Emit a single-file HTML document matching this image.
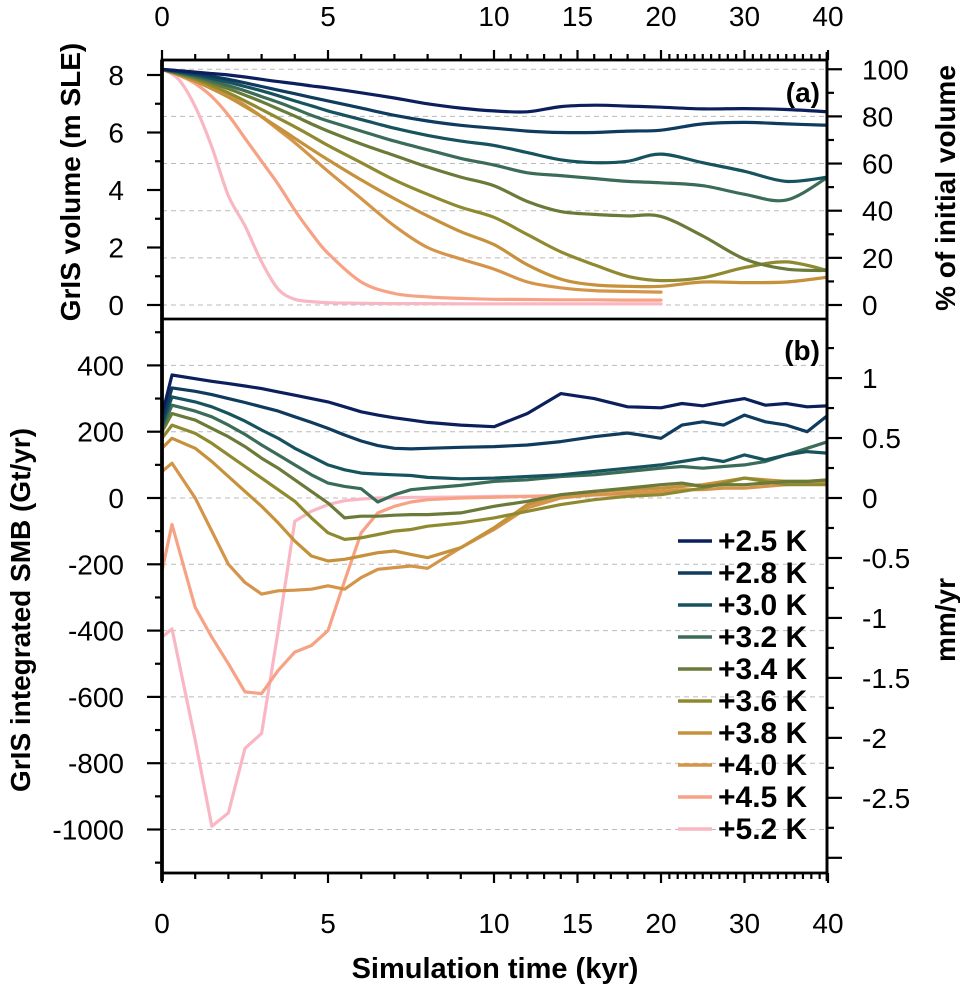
<!DOCTYPE html>
<html><head><meta charset="utf-8"><style>
html,body{margin:0;padding:0;background:#fff}
svg{display:block;font-family:"Liberation Sans",Arial,sans-serif}
</style></head><body>
<svg id="c" width="960" height="984" viewBox="0 0 960 984"></svg>
<script>
// ---- data ----
const seriesLabels = ["+2.5 K","+2.8 K","+3.0 K","+3.2 K","+3.4 K","+3.6 K","+3.8 K","+4.0 K","+4.5 K","+5.2 K"];
const seriesColors = ["#0b1f5c","#0f3b5f","#17535f","#3a6c58","#6a7a38","#8f8a30","#c5913a","#d4954a","#f7a285","#f9b7c3"];
const volTimes = [0,0.5,1,1.5,2,2.5,3,3.5,4,4.5,5,6,7,8,9,10,12,14,16,18,20,25,30,35,40];
const vol25 = [8.2,8.15,8.1,8.05,8.0,7.93,7.85,7.77,7.7,7.62,7.55,7.38,7.2,7.0,6.85,6.75,6.72,6.9,6.95,6.92,6.88,6.82,6.83,6.8,6.72];
const vol28 = [8.2,8.13,8.05,7.95,7.85,7.73,7.6,7.47,7.35,7.22,7.1,6.85,6.6,6.4,6.25,6.15,6.05,6.0,6.0,6.05,6.08,6.3,6.35,6.3,6.25];
const vol30 = [8.2,8.1,8.0,7.88,7.75,7.6,7.45,7.28,7.1,6.93,6.75,6.45,6.15,5.9,5.7,5.55,5.3,5.05,4.95,5.0,5.25,4.95,4.65,4.3,4.45];
const vol32 = [8.2,8.08,7.95,7.8,7.63,7.45,7.25,7.05,6.83,6.6,6.4,6.05,5.7,5.4,5.1,4.87,4.6,4.5,4.4,4.3,4.25,4.15,3.85,3.65,4.45];
const vol34 = [8.2,8.05,7.9,7.72,7.52,7.3,7.07,6.82,6.57,6.3,6.05,5.6,5.2,4.8,4.45,4.15,3.6,3.25,3.15,3.1,3.08,2.4,1.6,1.25,1.2];
const vol36 = [8.2,8.03,7.85,7.63,7.38,7.1,6.8,6.5,6.2,5.88,5.55,4.95,4.35,3.85,3.4,3.05,2.45,1.85,1.4,1.0,0.85,0.95,1.3,1.5,1.2];
const vol38 = [8.2,8.0,7.78,7.52,7.23,6.9,6.55,6.18,5.8,5.42,5.05,4.35,3.7,3.1,2.55,2.1,1.4,0.9,0.7,0.65,0.65,0.8,0.78,0.8,0.97];
const vol40 = [8.2,8.05,7.85,7.6,7.3,6.95,6.55,6.1,5.65,5.15,4.65,3.7,2.75,2.0,1.6,1.25,0.8,0.6,0.5,0.47,0.45];
const vol45 = [8.2,8.0,7.7,7.25,6.6,5.8,5.0,4.2,3.3,2.5,1.8,0.8,0.4,0.28,0.23,0.2,0.19,0.18,0.18,0.17,0.17];
const vol52 = [8.2,7.85,6.9,5.5,3.8,2.75,1.5,0.55,0.2,0.12,0.08,0.06,0.05,0.05,0.04,0.04,0.04,0.04,0.04,0.04,0.04];
const smbTimes = [0,0.3,1,1.5,2,2.5,3,3.5,4,4.5,5,5.5,6,6.5,7,7.5,8,9,10,12,14,16,18,20,22.5,25,27.5,30,32.5,35,37.5,40];
const smb25 = [250,371,360,352,345,338,330,320,310,300,290,275,260,250,242,235,228,220,215,255,315,300,275,272,285,278,290,300,280,285,275,278];
const smb28 = [230,332,322,312,300,288,275,262,245,228,210,190,172,158,150,148,150,153,155,160,170,185,196,180,220,230,220,250,230,220,200,250];
const smb30 = [220,305,290,275,255,232,205,180,150,125,100,85,75,72,70,68,62,58,60,65,70,80,90,100,110,120,110,130,115,130,140,135];
const smb32 = [210,280,262,245,220,192,160,130,100,70,45,35,28,-12,10,25,30,38,50,55,65,70,80,90,95,90,95,100,110,130,150,170];
const smb34 = [200,255,235,210,185,155,120,90,55,20,-15,-60,-55,-55,-52,-50,-50,-45,-25,-10,10,20,30,40,45,35,40,40,45,50,50,55];
const smb36 = [180,220,195,165,130,95,60,25,-10,-60,-105,-125,-120,-110,-100,-95,-85,-75,-60,-40,-20,-5,5,10,20,30,45,60,50,40,40,40];
const smb38 = [150,180,150,110,65,20,-25,-75,-130,-175,-190,-185,-175,-165,-160,-170,-180,-150,-90,-20,10,20,25,30,35,40,50,60,55,50,50,50];
const smb40 = [80,105,0,-100,-200,-255,-290,-280,-278,-275,-265,-275,-240,-215,-210,-205,-212,-150,-95,-30,0,10,15,20,25,25,30,30,35,40,45,45];
const smb45 = [-220,-80,-330,-420,-500,-585,-590,-520,-465,-445,-400,-250,-105,-45,-25,-12,-5,0,2,5,8,10,10,12];
const smb52 = [-420,-395,-730,-990,-950,-755,-710,-400,-70,-40,-20,-8,-3,0,0,2,2,3,5,5,6,8,10,12];
const volSeries = [vol25,vol28,vol30,vol32,vol34,vol36,vol38,vol40,vol45,vol52];
const smbSeries = [smb25,smb28,smb30,smb32,smb34,smb36,smb38,smb40,smb45,smb52];
const xTickLabels = [0,5,10,15,20,30,40];
const volTicks = [0,2,4,6,8];
const pctTicks = [0,20,40,60,80,100];
const smbTicks = [400,200,0,-200,-400,-600,-800,-1000];
const mmTicks = [1,0.5,0,-0.5,-1,-1.5,-2,-2.5];

// ---- geometry ----
const L=162,R=827,TA=60,BA=319,BB=873;
const FS=28;
function xs(t){ if(t<=10) return L+t*33.2; if(t<=20) return 494+(t-10)*16.7; return 661+(t-20)*8.35; }
function yv(v){ return 305-v*28.75; }
function yp(p){ return yv(p/100*8.2); }
function ys(g){ return 498-g*0.3315; }
function ym(m){ return ys(m*361.8); }
const NS="http://www.w3.org/2000/svg", svg=document.getElementById('c');
function el(tag,attrs,parent){const e=document.createElementNS(NS,tag);for(const k in attrs)e.setAttribute(k,attrs[k]);(parent||svg).appendChild(e);return e;}
function txt(s,x,y,attrs){const e=el('text',Object.assign({x:x,y:y,'font-size':FS,fill:'#000'},attrs||{}));e.textContent=s;return e;}
function smooth(pts){
  let d='M'+pts[0][0].toFixed(1)+','+pts[0][1].toFixed(1);
  for(let i=0;i<pts.length-1;i++){
    const p0=pts[i-1]||pts[i],p1=pts[i],p2=pts[i+1],p3=pts[i+2]||p2;
    const c1=[p1[0]+(p2[0]-p0[0])/6,p1[1]+(p2[1]-p0[1])/6];
    const c2=[p2[0]-(p3[0]-p1[0])/6,p2[1]-(p3[1]-p1[1])/6];
    d+='C'+c1[0].toFixed(1)+','+c1[1].toFixed(1)+' '+c2[0].toFixed(1)+','+c2[1].toFixed(1)+' '+p2[0].toFixed(1)+','+p2[1].toFixed(1);
  }
  return d;
}

// grid
const grid=el('g',{stroke:'#bbb','stroke-width':1,'stroke-dasharray':'5,4'});


pctTicks.forEach(p=>el('line',{x1:L,x2:R,y1:yp(p),y2:yp(p)},grid));
smbTicks.forEach(g=>el('line',{x1:L,x2:R,y1:ys(g),y2:ys(g)},grid));

// clip
const defs=el('defs',{});
const ca=el('clipPath',{id:'ca'},defs); el('rect',{x:L,y:TA,width:R-L,height:BA-TA},ca);
const cb=el('clipPath',{id:'cb'},defs); el('rect',{x:L,y:BA,width:R-L,height:BB-BA},cb);

// series
const ga=el('g',{'clip-path':'url(#ca)',fill:'none','stroke-width':3.2,'stroke-linejoin':'round','stroke-linecap':'round'});


const gb=el('g',{'clip-path':'url(#cb)',fill:'none','stroke-width':3.2,'stroke-linejoin':'round','stroke-linecap':'round'});


for(let i=volSeries.length-1;i>=0;i--){
  const pts=volSeries[i].map((v,j)=>[xs(volTimes[j]),yv(v)]);
  const p=el('path',{d:smooth(pts),stroke:seriesColors[i]},ga);
  
  
  const d=smbSeries[i].map((v,j)=>(j?'L':'M')+xs(smbTimes[j]).toFixed(1)+','+ys(v).toFixed(1)).join('');
  const q=el('path',{d:d,stroke:seriesColors[i]},gb);
  
  
}

// frame
const fr=el('g',{stroke:'#000',fill:'none'});


el('rect',{x:L,y:TA,width:R-L,height:BB-TA,'stroke-width':2.8},fr);
el('line',{x1:L,x2:R,y1:BA,y2:BA,'stroke-width':2.8},fr);
el('line',{x1:L,x2:L,y1:TA,y2:BB+8,'stroke-width':3.8},fr);
el('line',{x1:R,x2:R,y1:TA-8,y2:BB+8,'stroke-width':2.8},fr);

// x ticks
const tk=el('g',{stroke:'#000','stroke-width':2.2});


const minorT=[];for(let t=1;t<40;t++){if(!xTickLabels.includes(t))minorT.push(t);}
minorT.forEach(t=>{const x=xs(t);el('line',{x1:x,x2:x,y1:TA,y2:TA-6},tk);el('line',{x1:x,x2:x,y1:BB,y2:BB+6},tk);});
xTickLabels.forEach(t=>{const x=xs(t);el('line',{x1:x,x2:x,y1:TA,y2:TA-10},tk);el('line',{x1:x,x2:x,y1:BB,y2:BB+10},tk);
  const a=txt(String(t),x,26,{'text-anchor':'middle'});
  const b=txt(String(t),x,933,{'text-anchor':'middle'});});
// left y panel a
for(let v=0;v<=8;v++){const y=yv(v);el('line',{x1:L,x2:L-(v%2?7:15),y1:y,y2:y},tk);}
volTicks.forEach(v=>{const e=txt(String(v),124,yv(v)+10,{'text-anchor':'end'});});
// right y panel a
for(let p=0;p<=100;p+=10){const y=yp(p);el('line',{x1:R,x2:R+(p%20?7:15),y1:y,y2:y},tk);}
pctTicks.forEach(p=>{const e=txt(String(p),862,yp(p)+10);});
// left y panel b
for(let g=500;g>=-1100;g-=100){const y=ys(g);el('line',{x1:L,x2:L-(g%200?7:15),y1:y,y2:y},tk);}
smbTicks.forEach(g=>{const e=txt(String(g),124,ys(g)+10,{'text-anchor':'end'});});
// right y panel b
for(let m=1.25;m>=-3;m-=0.25){const y=ym(m);if(y<BA||y>BB)continue;const maj=Math.abs(m*2-Math.round(m*2))<1e-6;el('line',{x1:R,x2:R+(maj?15:7),y1:y,y2:y},tk);}
mmTicks.forEach(m=>{const e=txt(String(m),862,ym(m)+10);});

// panel labels
let e=txt('(a)',820,102,{'text-anchor':'end','font-weight':'bold'});
e=txt('(b)',820,360,{'text-anchor':'end','font-weight':'bold'});

// axis titles
e=txt('GrIS volume (m SLE)',0,0,{'text-anchor':'middle','font-weight':'bold','font-size':28,transform:'translate(80,182) rotate(-90)'});
e=txt('GrIS integrated SMB (Gt/yr)',0,0,{'text-anchor':'middle','font-weight':'bold','font-size':28,transform:'translate(30,610) rotate(-90)'});
e=txt('% of initial volume',0,0,{'text-anchor':'middle','font-weight':'bold','font-size':28,transform:'translate(955,188) rotate(-90)'});
e=txt('mm/yr',0,0,{'text-anchor':'middle','font-weight':'bold','font-size':28,transform:'translate(955,620) rotate(-90)'});
e=txt('Simulation time (kyr)',495,978,{'text-anchor':'middle','font-weight':'bold','font-size':29});

// legend
const lg=el('g',{});


seriesLabels.forEach((s,i)=>{const y=541+i*32;
  const g=el('g',{},lg);
  
  
  el('line',{x1:678,x2:712,y1:y,y2:y,stroke:seriesColors[i],'stroke-width':3.5},g);
  const t=txt(s,718,y+10,{'font-weight':'bold','font-size':30});g.appendChild(t);});
</script>
</body></html>
